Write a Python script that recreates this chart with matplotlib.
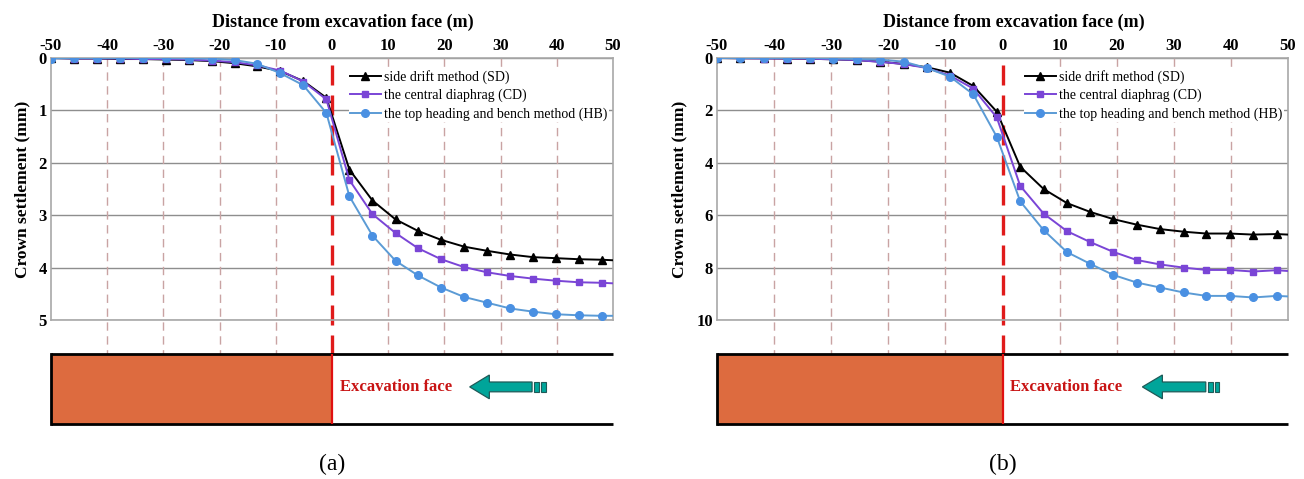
import matplotlib
matplotlib.use("Agg")
import matplotlib.pyplot as plt
from matplotlib.patches import Rectangle, Polygon

plt.rcParams['font.family'] = ['Liberation Serif', 'DejaVu Serif']
plt.rcParams['axes.unicode_minus'] = False

# ---------------- data ----------------
x_pos = [-50, -45.9, -41.8, -37.8, -33.7, -29.6, -25.5, -21.4, -17.3, -13.3, -9.2, -5.1, -1.0,
         3.1, 7.2, 11.3, 15.3, 19.4, 23.5, 27.6, 31.7, 35.7, 39.8, 43.9, 48.0, 50]

sd_a = [0.0, 0.01, 0.01, 0.02, 0.02, 0.03, 0.04, 0.06, 0.10, 0.16, 0.25, 0.44, 0.76,
        2.13, 2.72, 3.08, 3.30, 3.47, 3.60, 3.68, 3.75, 3.80, 3.82, 3.84, 3.85, 3.86]
cd_a = [0.0, 0.01, 0.01, 0.01, 0.02, 0.02, 0.03, 0.05, 0.08, 0.14, 0.24, 0.45, 0.79,
        2.33, 2.98, 3.34, 3.63, 3.84, 3.99, 4.09, 4.16, 4.21, 4.25, 4.28, 4.29, 4.30]
hb_a = [0.01, 0.0, 0.0, 0.0, 0.0, 0.0, 0.01, 0.01, 0.04, 0.11, 0.29, 0.52, 1.05,
        2.64, 3.39, 3.87, 4.15, 4.38, 4.56, 4.67, 4.78, 4.84, 4.89, 4.91, 4.92, 4.92]

sd_b = [0.0, 0.01, 0.01, 0.02, 0.03, 0.05, 0.08, 0.14, 0.23, 0.35, 0.56, 1.07, 2.05,
        4.15, 5.00, 5.54, 5.87, 6.15, 6.36, 6.53, 6.63, 6.70, 6.70, 6.74, 6.72, 6.74]
cd_b = [0.0, 0.01, 0.02, 0.02, 0.03, 0.05, 0.08, 0.15, 0.23, 0.38, 0.67, 1.17, 2.27,
        4.88, 5.94, 6.61, 7.02, 7.40, 7.71, 7.88, 8.00, 8.09, 8.09, 8.15, 8.10, 8.13]
hb_b = [0.0, 0.0, 0.0, 0.0, 0.0, 0.02, 0.04, 0.06, 0.14, 0.38, 0.71, 1.39, 3.01,
        5.47, 6.57, 7.41, 7.85, 8.28, 8.57, 8.76, 8.95, 9.08, 9.08, 9.14, 9.08, 9.10]

series_labels = ['side drift method (SD)', 'the central diaphrag (CD)',
                 'the top heading and bench method (HB)']
x_ticks = [-50, -40, -30, -20, -10, 0, 10, 20, 30, 40, 50]
y_ticks_a = [0, 1, 2, 3, 4, 5]
y_ticks_b = [0, 2, 4, 6, 8, 10]
panel_labels = ['(a)', '(b)']

# ---------------- style ----------------
W, H = 1304, 479
fig = plt.figure(figsize=(W / 100, H / 100), dpi=100)

styles = [dict(color='black', marker='^', ms=5.5, mfc='black', mec='black'),
          dict(color='#7A45D6', marker='s', ms=4.8, mfc='#7A45D6', mec='#7A45D6'),
          dict(color='#5B9BD5', marker='o', ms=5.5, mfc='#4A90E2', mec='#4A90E2')]

def px_axes(l, r, t, b):
    return [l / W, (H - b) / H, (r - l) / W, (b - t) / H]

panels = [
    dict(l=51, r=613, yt=y_ticks_a, data=[sd_a, cd_a, hb_a], lab=panel_labels[0]),
    dict(l=717, r=1288, yt=y_ticks_b, data=[sd_b, cd_b, hb_b], lab=panel_labels[1]),
]

top, bot = 58, 320
box_t, box_b = 354, 424
ext = -(box_t - bot) / (bot - top)  # axes fraction down to box top

for p in panels:
    ax = fig.add_axes(px_axes(p['l'], p['r'], top, bot))
    ax.set_xlim(-50, 50)
    ax.set_ylim(p['yt'][-1], 0)
    ax.set_xticks(x_ticks)
    ax.set_yticks(p['yt'])
    ax.xaxis.tick_top()
    ax.xaxis.set_label_position('top')
    ax.tick_params(axis='both', length=0, labelsize=12, pad=3)
    for lab in ax.get_xticklabels() + ax.get_yticklabels():
        lab.set_fontweight('bold')
    ax.set_xlabel('Distance from excavation face (m)', fontsize=13,
                  fontweight='bold', labelpad=8)
    ax.xaxis.label.set_x(0.52)
    ax.set_ylabel('Crown settlement (mm)', fontsize=12.5, fontweight='bold', labelpad=6)
    for s in ax.spines.values():
        s.set_color('#A8A8A8')
        s.set_linewidth(1.2)
    ax.yaxis.grid(True, color='#8E8E8E', linewidth=1.0)
    ax.set_axisbelow(True)
    tr = ax.get_xaxis_transform()
    for xv in x_ticks[1:-1]:
        if xv == 0:
            ax.plot([xv, xv], [0.975, ext], transform=tr, color='#E01B1B', lw=2.4,
                    dashes=(6, 3), clip_on=False, zorder=1.5)
        else:
            ax.plot([xv, xv], [1, ext], transform=tr, color='#C9A3A3', lw=1.0,
                    dashes=(6, 4), clip_on=False, zorder=1)
    handles = []
    for vals, st, lbl in zip(p['data'], styles, series_labels):
        h, = ax.plot(x_pos, vals, lw=1.4, markevery=slice(0, len(x_pos) - 1),
                     label=lbl, zorder=3, **st)
        handles.append(h)
    leg = ax.legend(handles=handles, loc='upper right', bbox_to_anchor=(1.0, 0.975),
                    fontsize=10, frameon=True, framealpha=1, facecolor='white',
                    edgecolor='none', borderpad=0.1, borderaxespad=0.3,
                    handlelength=2.2, handletextpad=0.25, labelspacing=0.35, fancybox=False)
    leg.set_zorder(5)

    # excavation box
    bx = fig.add_axes(px_axes(p['l'], p['r'], box_t, box_b))
    bx.set_xlim(-50, 50)
    bx.set_ylim(0, 1)
    bx.axis('off')
    bx.add_patch(Rectangle((-50, 0), 50, 1, facecolor='#DD6B3F', edgecolor='none'))
    bx.plot([-50, 50], [1, 1], color='black', lw=2.0, clip_on=False, solid_capstyle='butt')
    bx.plot([-50, 50], [0, 0], color='black', lw=2.0, clip_on=False, solid_capstyle='butt')
    bx.plot([-50, -50], [0, 1], color='black', lw=2.0, clip_on=False)
    bx.plot([0, 0], [0, 1], color='#E01010', lw=1.6)
    bx.text(1.4, 0.53, 'Excavation face', color='#C81414', fontsize=12,
            fontweight='bold', ha='left', va='center')
    yc = 0.53
    arrow = Polygon([(24.5, yc), (28.0, yc + 0.17), (28.0, yc + 0.07), (35.6, yc + 0.07),
                     (35.6, yc - 0.07), (28.0, yc - 0.07), (28.0, yc - 0.17)],
                    closed=True, facecolor='#00A59A', edgecolor='#1F5A58', lw=0.9)
    bx.add_patch(arrow)
    bx.add_patch(Rectangle((36.0, yc - 0.07), 0.8, 0.14, facecolor='#00A59A',
                           edgecolor='#1F5A58', lw=0.8))
    bx.add_patch(Rectangle((37.2, yc - 0.07), 0.8, 0.14, facecolor='#00A59A',
                           edgecolor='#1F5A58', lw=0.8))

    cx = (p['l'] + (p['r'] - p['l']) / 2) / W
    fig.text(cx, (H - 464) / H, p['lab'], ha='center', va='center', fontsize=17)

fig.savefig('out.png', dpi=100)
